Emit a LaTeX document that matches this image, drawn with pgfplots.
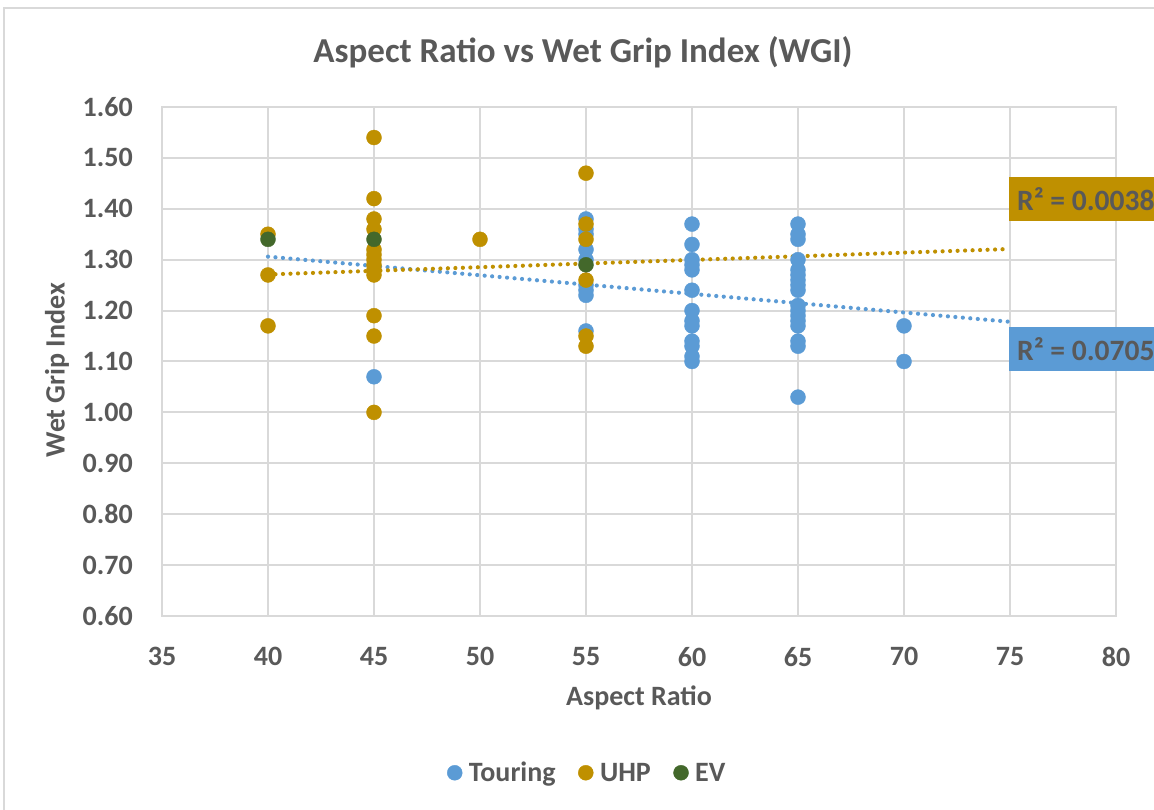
\documentclass[border=0pt]{standalone}
\usepackage{pgfplots}
\pgfplotsset{compat=1.18}
\usepackage{fontspec}
\setmainfont{Carlito}
\definecolor{txt}{HTML}{595959}
\definecolor{gridgray}{HTML}{D9D9D9}
\definecolor{tour}{HTML}{5B9BD5}
\definecolor{uhp}{HTML}{BF9000}
\definecolor{evc}{HTML}{43682B}
\begin{document}
\begin{tikzpicture}[x=1pt,y=1pt]
\path[use as bounding box] (0pt,0pt) rectangle (1154pt,810pt);
\draw[gridgray, line width=2pt] (4pt,-20pt) -- (4pt,802pt) -- (1180pt,802pt);
\node[text=txt, font=\fontsize{35}{40}\selectfont\bfseries] at (583pt,758pt) {Aspect Ratio vs Wet Grip Index (WGI)};
\begin{axis}[at={(162pt,194pt)}, anchor=south west, scale only axis,
  width=954pt, height=509pt,
  xmin=35, xmax=80, ymin=0.6, ymax=1.6,
  xtick={35,40,45,50,55,60,65,70,75,80},
  ytick={0.6,0.7,0.8,0.9,1.0,1.1,1.2,1.3,1.4,1.5,1.6},
  grid=major, major grid style={gridgray, line width=2pt},
  axis line style={gridgray, line width=2pt},
  major tick length=0pt,
  /pgf/number format/assume math mode=true,
  tick label style={font=\fontsize{28}{32}\selectfont\bfseries, text=txt, inner sep=0pt},
  yticklabel style={/pgf/number format/fixed, /pgf/number format/fixed zerofill, /pgf/number format/precision=2, xshift=-29pt},
  xticklabel style={yshift=-31pt},
  xlabel={Aspect Ratio}, ylabel={Wet Grip Index},
  label style={font=\fontsize{28}{32}\selectfont\bfseries, text=txt},
  xlabel style={at={(axis description cs:0.5,0)}, anchor=center, yshift=-82pt},
  ylabel style={at={(axis description cs:-0.110,0.483)}, anchor=center},
  legend style={at={(0.4455,-0.308)}, anchor=center, draw=none, fill=none,
    font=\fontsize{28}{32}\selectfont\bfseries, text=txt, legend columns=3,
    /tikz/every even column/.append style={column sep=20pt}},
  legend image code/.code={\path[#1] plot coordinates {(0pt,0pt)}; \path (-8pt,0pt) (12pt,0pt);},
  legend cell align=left,
]
\addplot[only marks, mark=*, mark size=7.5pt, color=tour] coordinates {
(45,1.07)
(55,1.38) (55,1.36) (55,1.35) (55,1.32) (55,1.30) (55,1.25) (55,1.24) (55,1.23) (55,1.16)
(60,1.37) (60,1.33) (60,1.30) (60,1.29) (60,1.28) (60,1.24) (60,1.20) (60,1.18) (60,1.17) (60,1.14) (60,1.13) (60,1.11) (60,1.10)
(65,1.37) (65,1.35) (65,1.34) (65,1.30) (65,1.28) (65,1.27) (65,1.26) (65,1.25) (65,1.24) (65,1.21) (65,1.20) (65,1.19) (65,1.18) (65,1.17) (65,1.14) (65,1.13) (65,1.03)
(70,1.17) (70,1.10)
};
\addlegendentry{Touring}
\addplot[only marks, mark=*, mark size=7.5pt, color=uhp] coordinates {
(40,1.35) (40,1.27) (40,1.17)
(45,1.54) (45,1.42) (45,1.38) (45,1.36) (45,1.32) (45,1.31) (45,1.30) (45,1.29) (45,1.28) (45,1.27) (45,1.19) (45,1.15) (45,1.00)
(50,1.34)
(55,1.47) (55,1.37) (55,1.34) (55,1.26) (55,1.15) (55,1.13)
};
\addlegendentry{UHP}
\addplot[only marks, mark=*, mark size=7.5pt, color=evc] coordinates {
(40,1.34) (45,1.34) (55,1.29)
};
\addlegendentry{EV}
\addplot[forget plot, tour, line width=4.2pt, dash pattern=on 0pt off 7.5pt, line cap=round] coordinates {(40,1.306) (75,1.178)};
\addplot[forget plot, uhp, line width=4.2pt, dash pattern=on 0pt off 7.5pt, line cap=round] coordinates {(40,1.271) (75,1.321)};
\end{axis}
\node[fill=uhp, text=txt, anchor=west, font=\fontsize{29.5}{34}\selectfont\bfseries, minimum height=44pt, inner xsep=8pt, inner ysep=0pt] at (1009pt,611pt) {R² = 0.0038};
\node[fill=tour, text=txt, anchor=west, font=\fontsize{29.5}{34}\selectfont\bfseries, minimum height=44pt, inner xsep=8pt, inner ysep=0pt] at (1009pt,461pt) {R² = 0.0705};
\end{tikzpicture}
\end{document}
